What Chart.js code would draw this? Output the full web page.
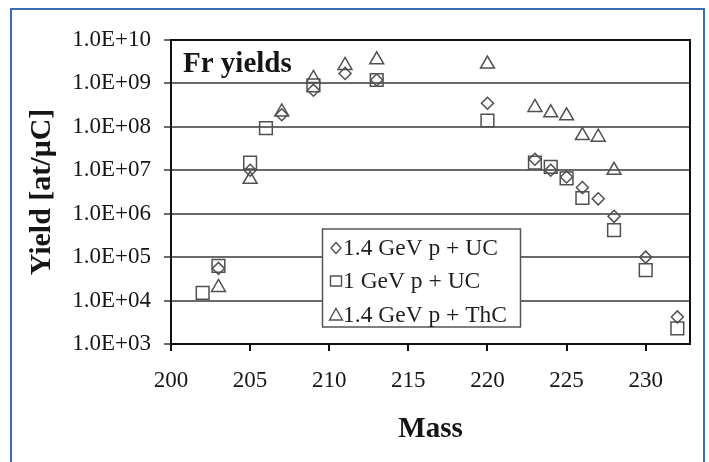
<!DOCTYPE html>
<html>
<head>
<meta charset="utf-8">
<script src="https://cdn.jsdelivr.net/npm/chart.js@4/dist/chart.umd.min.js"></script>
<style>
  html, body { margin: 0; padding: 0; background: #fff; }
  #wrap { position: relative; width: 709px; height: 462px; overflow: hidden; }
  #c { position: absolute; left: 0; top: 0; }
  #frame { position: absolute; left: 10px; top: 8px; width: 695px; height: 480px;
           border: 2px solid #3b6cb2; box-sizing: border-box; pointer-events: none; }
</style>
</head>
<body>
<div id="wrap">
  <canvas id="c" width="709" height="462"></canvas>
  <div id="frame"></div>
</div>
<script>
// Francium yields per isotope mass, three target/beam combinations
const massUC14  = [203, 205, 207, 209, 211, 213, 220, 223, 224, 225, 226, 227, 228, 230, 232];
const yieldUC14 = [5.5e4, 1.0e7, 1.9e8, 7.0e8, 1.7e9, 1.2e9, 3.5e8, 1.8e7, 1.0e7, 7.0e6, 4.0e6, 2.2e6, 8.7e5, 1.0e5, 4.2e3];

const massUC1   = [202, 203, 205, 206, 209, 213, 220, 223, 224, 225, 226, 228, 230, 232];
const yieldUC1  = [1.5e4, 6.3e4, 1.5e7, 9.3e7, 9.0e8, 1.2e9, 1.4e8, 1.5e7, 1.2e7, 6.5e6, 2.3e6, 4.2e5, 5.0e4, 2.3e3];

const massThC14  = [203, 205, 207, 209, 211, 213, 220, 223, 224, 225, 226, 227, 228];
const yieldThC14 = [2.0e4, 6.2e6, 2.2e8, 1.3e9, 2.6e9, 3.5e9, 2.8e9, 2.8e8, 2.1e8, 1.8e8, 6.3e7, 5.8e7, 1.0e7];

const seriesLabels = ['1.4 GeV p + UC', '1 GeV p + UC', '1.4 GeV p + ThC'];
const massTicks  = [200, 205, 210, 215, 220, 225, 230];
const yieldTicks = [1e3, 1e4, 1e5, 1e6, 1e7, 1e8, 1e9, 1e10];

const chartTitle = 'Fr yields';
const xTitle = 'Mass';
const yTitle = 'Yield [at/\u03BCC]';

const SERIF = "'Liberation Serif', 'Times New Roman', serif";
const MARK = '#505050';

function pairs(xs, ys) { return xs.map((x, i) => ({ x: x, y: ys[i] })); }

function sciLabel(v) {
  const e = Math.round(Math.log10(v));
  return '1.0E+' + String(e).padStart(2, '0');
}

// small legend glyphs drawn by hand
function glyph(ctx, kind, x, y) {
  ctx.beginPath();
  if (kind === 'diamond') {
    ctx.moveTo(x, y - 5.5); ctx.lineTo(x + 5, y); ctx.lineTo(x, y + 5.5); ctx.lineTo(x - 5, y); ctx.closePath();
  } else if (kind === 'square') {
    ctx.rect(x - 5.5, y - 5, 11, 10);
  } else {
    ctx.moveTo(x, y - 6.5); ctx.lineTo(x + 6.5, y + 5); ctx.lineTo(x - 6.5, y + 5); ctx.closePath();
  }
  ctx.stroke();
}

const decorations = {
  id: 'decorations',
  beforeDatasetsDraw(chart) {
    const { ctx, chartArea: a } = chart;
    ctx.save();
    ctx.strokeStyle = '#111';
    ctx.lineWidth = 2;
    ctx.strokeRect(a.left, a.top, a.right - a.left, a.bottom - a.top);
    ctx.restore();
  },
  afterDatasetsDraw(chart) {
    const { ctx } = chart;
    ctx.save();
    // legend box
    const bx = 322.5, by = 229, bw = 198, bh = 98;
    ctx.fillStyle = '#fff';
    ctx.fillRect(bx, by, bw, bh);
    ctx.strokeStyle = '#555';
    ctx.lineWidth = 1.5;
    ctx.strokeRect(bx, by, bw, bh);
    const kinds = ['diamond', 'square', 'triangle'];
    const rows = [248, 281, 315];
    ctx.font = '23.5px ' + SERIF;
    ctx.textBaseline = 'middle';
    ctx.textAlign = 'left';
    kinds.forEach((k, i) => {
      ctx.strokeStyle = MARK;
      ctx.lineWidth = 1.4;
      glyph(ctx, k, 336, rows[i]);
      ctx.fillStyle = '#1e1e1e';
      ctx.fillText(seriesLabels[i], 343, rows[i] + 1);
    });
    ctx.restore();
  },
  afterDraw(chart) {
    const { ctx, chartArea: a } = chart;
    ctx.save();
    ctx.fillStyle = '#151515';
    ctx.font = 'bold 29px ' + SERIF;
    ctx.textAlign = 'left';
    ctx.textBaseline = 'alphabetic';
    ctx.fillText(chartTitle, 183, 72);

    ctx.textAlign = 'center';
    ctx.fillText(xTitle, (a.left + a.right) / 2, 437);

    ctx.translate(42, (a.top + a.bottom) / 2);
    ctx.rotate(-Math.PI / 2);
    ctx.textBaseline = 'middle';
    ctx.font = 'bold 30px ' + SERIF;
    ctx.fillText(yTitle, 0, 0);
    ctx.restore();
  }
};

new Chart(document.getElementById('c'), {
  type: 'scatter',
  data: {
    datasets: [
      { label: seriesLabels[0], data: pairs(massUC14, yieldUC14), pointStyle: 'rectRot', pointRadius: 6,
        borderColor: MARK, backgroundColor: 'rgba(0,0,0,0)', borderWidth: 1.5 },
      { label: seriesLabels[1], data: pairs(massUC1, yieldUC1), pointStyle: 'rect', pointRadius: 9,
        borderColor: MARK, backgroundColor: 'rgba(0,0,0,0)', borderWidth: 1.5 },
      { label: seriesLabels[2], data: pairs(massThC14, yieldThC14), pointStyle: 'triangle', pointRadius: 8,
        borderColor: MARK, backgroundColor: 'rgba(0,0,0,0)', borderWidth: 1.5 }
    ]
  },
  options: {
    responsive: false,
    animation: false,
    events: [],
    layout: { padding: { left: 0, top: 40, right: 19, bottom: 0 } },
    plugins: { legend: { display: false }, tooltip: { enabled: false } },
    scales: {
      x: {
        type: 'linear',
        min: 200,
        max: 232.8,
        afterBuildTicks: s => { s.ticks = massTicks.map(v => ({ value: v })); },
        afterFit: s => { s.height = 118; },
        grid: { drawOnChartArea: false, drawTicks: true, tickLength: 7, color: '#111', lineWidth: 2 },
        border: { display: true, color: '#111', width: 2 },
        ticks: { font: { family: SERIF, size: 23 }, color: '#151515', padding: 16, maxRotation: 0 }
      },
      y: {
        type: 'logarithmic',
        min: 1e3,
        max: 1e10,
        afterBuildTicks: s => { s.ticks = yieldTicks.map(v => ({ value: v })); },
        afterFit: s => { s.width = 171; },
        grid: { drawTicks: true, tickLength: 7, color: '#6a6a6a', lineWidth: 2 },
        border: { display: true, color: '#111', width: 2 },
        ticks: { font: { family: SERIF, size: 23 }, color: '#151515', padding: 13, callback: v => sciLabel(v) }
      }
    }
  },
  plugins: [decorations]
});
</script>
</body>
</html>
